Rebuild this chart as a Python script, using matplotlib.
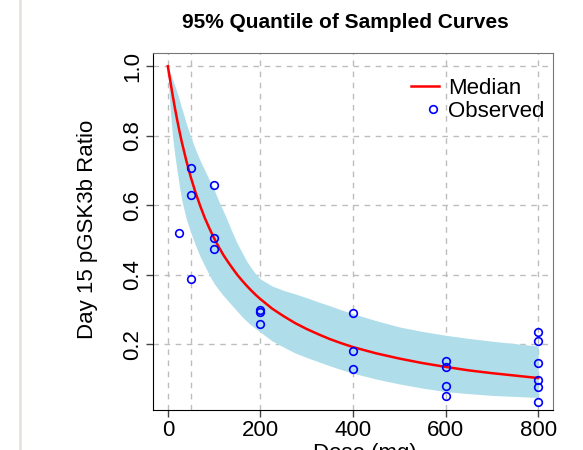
import numpy as np
import matplotlib.pyplot as plt
from matplotlib.lines import Line2D
from matplotlib.legend_handler import HandlerLine2D

plt.rcParams['font.family'] = ['Liberation Sans', 'DejaVu Sans']

# sampled-curve summary
dose_grid = [0, 2.5, 5, 10, 15, 20, 25, 30, 40, 50, 60, 70, 80, 90, 100,
             110, 120, 130, 140, 150, 160, 170, 180, 190, 200, 225, 250, 275,
             300, 325, 350, 375, 400, 450, 500, 550, 600, 650, 700, 750, 800]
median = [1.0, 0.980, 0.960, 0.920, 0.882, 0.847, 0.814, 0.783, 0.728, 0.679,
          0.636, 0.598, 0.563, 0.533, 0.505, 0.480, 0.457, 0.437, 0.418, 0.400,
          0.384, 0.369, 0.355, 0.342, 0.330, 0.303, 0.281, 0.261, 0.244, 0.229,
          0.215, 0.203, 0.192, 0.174, 0.159, 0.146, 0.135, 0.125, 0.117, 0.110,
          0.103]
upper = [1.0, 0.991, 0.982, 0.963, 0.944, 0.925, 0.902, 0.880, 0.835, 0.795,
         0.760, 0.728, 0.700, 0.672, 0.645, 0.612, 0.583, 0.552, 0.520, 0.490,
         0.465, 0.440, 0.420, 0.402, 0.388, 0.368, 0.355, 0.345, 0.334, 0.322,
         0.311, 0.299, 0.288, 0.268, 0.250, 0.237, 0.226, 0.217, 0.209, 0.202,
         0.195]
lower = [1.0, 0.925, 0.880, 0.800, 0.745, 0.700, 0.655, 0.615, 0.560, 0.520,
         0.484, 0.452, 0.425, 0.398, 0.375, 0.357, 0.340, 0.325, 0.310, 0.295,
         0.280, 0.267, 0.255, 0.245, 0.235, 0.210, 0.192, 0.175, 0.162, 0.150,
         0.138, 0.127, 0.117, 0.100, 0.086, 0.074, 0.064, 0.058, 0.053, 0.050,
         0.047]

# observed data
obs_dose = [25, 50, 50, 50, 100, 100, 100, 200, 200, 200, 400, 400, 400,
            600, 600, 600, 600, 800, 800, 800, 800, 800, 800]
obs_ratio = [0.521, 0.707, 0.630, 0.388, 0.658, 0.506, 0.475, 0.300, 0.293, 0.258,
             0.291, 0.181, 0.128, 0.152, 0.135, 0.080, 0.051,
             0.234, 0.209, 0.146, 0.096, 0.077, 0.033]

x_ticks = [0, 200, 400, 600, 800]
y_ticks = [0.2, 0.4, 0.6, 0.8, 1.0]
x_grid = [0, 50, 200, 400, 600, 800]


class RightMarker(HandlerLine2D):
    # legend point sits right of centre, like the R legend
    # (with numpoints=1 the marker goes at the middle of xdata)
    def get_xdata(self, legend, xdescent, ydescent, width, height, fontsize):
        xd = [-xdescent + 0.56 * width, -xdescent + width]
        return xd, xd


fig = plt.figure(figsize=(5.83, 4.5), dpi=100)
ax = fig.add_axes([153/583, 40/450, 400/583, 357/450])

for gx in x_grid:
    ax.axvline(gx, color='#bdbdbd', lw=1, ls=(0, (4, 4)), zorder=0.5)
for gy in y_ticks:
    ax.axhline(gy, color='#bdbdbd', lw=1, ls=(0, (4, 4)), zorder=0.5)

ax.fill_between(dose_grid, lower, upper, color='#afdeea', lw=0, zorder=1)
med_line, = ax.plot(dose_grid, median, color='red', lw=1.8, zorder=2, label='Median')
obs_line, = ax.plot(obs_dose, obs_ratio, 'o', mfc='none', mec='blue', ms=5.5, mew=1.2,
                    zorder=3, label='Observed')

ax.set_xlim(-32, 832)
ax.set_ylim(0.011, 1.038)
ax.set_xticks(x_ticks)
ax.set_yticks(y_ticks)
ax.set_xticklabels([str(v) for v in x_ticks])
ax.set_yticklabels(['%.1f' % v for v in y_ticks])
ax.tick_params(axis='both', labelsize=16, length=5, width=1, color='#444444', pad=2)
for lab in ax.get_yticklabels():
    lab.set_rotation(90)
    lab.set_va('center')

ax.spines['left'].set_color('black')
ax.spines['bottom'].set_color('black')
ax.spines['top'].set_color('#777777')
ax.spines['right'].set_color('#777777')

ax.legend(handles=[med_line, obs_line], handler_map={obs_line: RightMarker()},
          loc='upper right', bbox_to_anchor=(1.0, 0.955), frameon=False, fontsize=16,
          handlelength=1.25, handletextpad=0.4, labelspacing=0.1, borderaxespad=0.3,
          borderpad=0.1, numpoints=1)

fig.text(345/583, 1 - 22/450, '95% Quantile of Sampled Curves', fontsize=15,
         fontweight='bold', ha='center', va='center')
fig.text(87/583, 1 - 229.5/450, 'Day 15 pGSK3b Ratio', fontsize=16, rotation=90,
         ha='center', va='center')
fig.text(365/583, 1 - 443/450, 'Dose (mg)', fontsize=16, ha='center', va='top')

fig.add_artist(Line2D([20/583, 20/583], [0, 1], transform=fig.transFigure,
                      color='#e7e2de', lw=2))

fig.savefig('out.png', dpi=100)
